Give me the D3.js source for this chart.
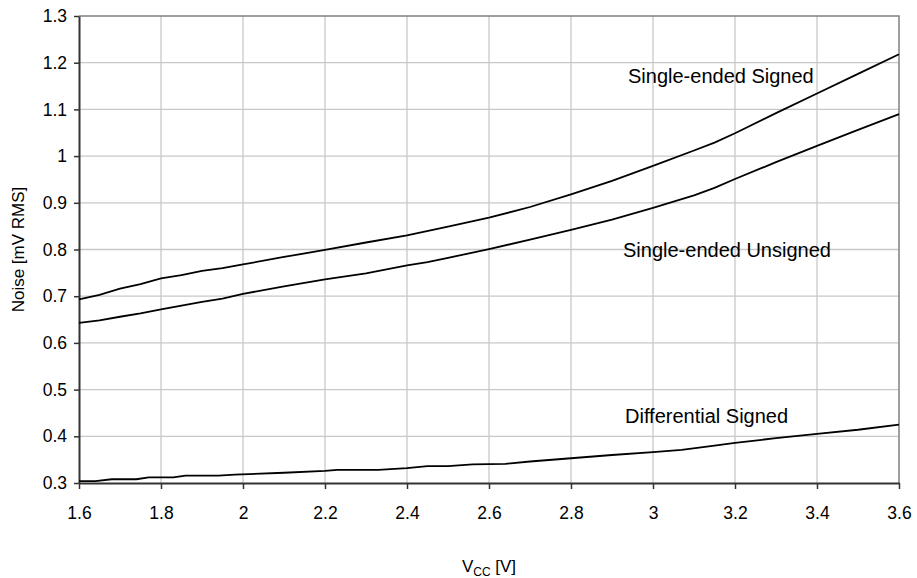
<!DOCTYPE html>
<html>
<head>
<meta charset="utf-8">
<script src="https://cdn.jsdelivr.net/npm/d3@7"></script>
<style>
  html, body { margin: 0; padding: 0; background: #fff; }
  svg text { font-family: "Liberation Sans", Arial, Helvetica, sans-serif; fill: #000; }
</style>
</head>
<body>
<svg id="chart" width="917" height="578"></svg>
<script>
// Supply voltage [V] and noise [mV RMS] for each curve
const signedVcc = [1.6, 1.65, 1.7, 1.75, 1.8, 1.85, 1.9, 1.95, 2.0, 2.1, 2.2, 2.3, 2.4, 2.5, 2.6, 2.7, 2.8, 2.9, 3.0, 3.1, 3.15, 3.2, 3.3, 3.4, 3.5, 3.6];
const signedNoise = [0.693, 0.703, 0.716, 0.726, 0.738, 0.745, 0.754, 0.760, 0.768, 0.784, 0.799, 0.815, 0.830, 0.849, 0.868, 0.891, 0.918, 0.947, 0.979, 1.012, 1.029, 1.049, 1.092, 1.134, 1.176, 1.218];

const unsignedVcc = [1.6, 1.65, 1.7, 1.75, 1.8, 1.85, 1.9, 1.95, 2.0, 2.1, 2.2, 2.3, 2.4, 2.45, 2.5, 2.6, 2.7, 2.8, 2.9, 3.0, 3.1, 3.15, 3.2, 3.3, 3.4, 3.5, 3.6];
const unsignedNoise = [0.643, 0.648, 0.656, 0.663, 0.672, 0.680, 0.688, 0.695, 0.705, 0.721, 0.736, 0.749, 0.766, 0.773, 0.782, 0.801, 0.821, 0.842, 0.864, 0.889, 0.916, 0.932, 0.951, 0.987, 1.022, 1.056, 1.090];

const diffVcc = [1.6, 1.64, 1.68, 1.74, 1.77, 1.83, 1.86, 1.94, 1.98, 2.1, 2.2, 2.23, 2.33, 2.4, 2.45, 2.5, 2.56, 2.64, 2.7, 2.8, 2.9, 3.0, 3.07, 3.15, 3.2, 3.3, 3.4, 3.5, 3.6];
const diffNoise = [0.304, 0.304, 0.308, 0.308, 0.312, 0.312, 0.316, 0.316, 0.318, 0.322, 0.326, 0.328, 0.328, 0.332, 0.336, 0.336, 0.340, 0.341, 0.346, 0.353, 0.360, 0.366, 0.371, 0.380, 0.386, 0.396, 0.405, 0.414, 0.425];

const xTicks = [1.6, 1.8, 2.0, 2.2, 2.4, 2.6, 2.8, 3.0, 3.2, 3.4, 3.6];
const yTicks = [0.3, 0.4, 0.5, 0.6, 0.7, 0.8, 0.9, 1.0, 1.1, 1.2, 1.3];

const seriesNames = ["Single-ended Signed", "Single-ended Unsigned", "Differential Signed"];

const svg = d3.select('#chart');
const margin = { left: 79, top: 16, right: 18, bottom: 95 };
const width = 917, height = 578;
const x0 = margin.left, x1 = width - margin.right;
const y0 = height - margin.bottom, y1 = margin.top;

const x = d3.scaleLinear().domain([1.6, 3.6]).range([x0, x1]);
const y = d3.scaleLinear().domain([0.3, 1.3]).range([y0, y1]);

// Grid
const grid = svg.append('g');
grid.selectAll('line.v')
    .data(xTicks.slice(1, -1))
    .enter().append('line')
    .attr('x1', d => x(d)).attr('x2', d => x(d))
    .attr('y1', y1).attr('y2', y0)
    .attr('stroke', '#c8c8c8').attr('stroke-width', 1.3);
grid.selectAll('line.h')
    .data(yTicks.slice(1, -1))
    .enter().append('line')
    .attr('x1', x0).attr('x2', x1)
    .attr('y1', d => y(d)).attr('y2', d => y(d))
    .attr('stroke', '#c8c8c8').attr('stroke-width', 1.3);

// Top and right frame
svg.append('path')
    .attr('d', `M${x0},${y1}H${x1}V${y0}`)
    .attr('fill', 'none').attr('stroke', '#808080').attr('stroke-width', 1.5);

// Axes
const fmt = d => d3.format('')(+d.toFixed(1));
const xAxis = svg.append('g')
    .attr('transform', `translate(0,${y0})`)
    .call(d3.axisBottom(x).tickValues(xTicks).tickSize(6).tickSizeOuter(0).tickFormat(fmt));
const yAxis = svg.append('g')
    .attr('transform', `translate(${x0},0)`)
    .call(d3.axisLeft(y).tickValues(yTicks).tickSize(5).tickSizeOuter(0).tickFormat(fmt));

[xAxis, yAxis].forEach(a => {
    a.select('.domain').attr('stroke', '#333').attr('stroke-width', 2);
    a.selectAll('.tick line').attr('stroke', '#333').attr('stroke-width', 1.5);
    a.selectAll('.tick text').attr('font-size', 17.5).attr('fill', '#000');
});
xAxis.selectAll('.tick text').attr('dy', '1.0em').attr('y', 18);
yAxis.selectAll('.tick text').attr('x', -12);

// Lines
const line = d3.line().x(d => x(d[0])).y(d => y(d[1]));
const series = [
    d3.zip(signedVcc, signedNoise),
    d3.zip(unsignedVcc, unsignedNoise),
    d3.zip(diffVcc, diffNoise)
];
svg.selectAll('path.series')
    .data(series)
    .enter().append('path')
    .attr('class', 'series')
    .attr('d', line)
    .attr('fill', 'none')
    .attr('stroke', '#000')
    .attr('stroke-width', 1.8);

// Curve labels
const labelPos = [[628, 83], [623, 257], [625, 423]];
svg.selectAll('text.lbl')
    .data(seriesNames)
    .enter().append('text')
    .attr('class', 'lbl')
    .attr('x', (d, i) => labelPos[i][0])
    .attr('y', (d, i) => labelPos[i][1])
    .attr('font-size', 20)
    .text(d => d);

// Axis titles
const xt = svg.append('text')
    .attr('x', (x0 + x1) / 2)
    .attr('y', 572)
    .attr('text-anchor', 'middle')
    .attr('font-size', 17);
xt.append('tspan').text('V');
xt.append('tspan').attr('font-size', 12).attr('dy', 4).text('CC');
xt.append('tspan').attr('dy', -4).text(' [V]');

svg.append('text')
    .attr('transform', `translate(24,${(y0 + y1) / 2}) rotate(-90)`)
    .attr('text-anchor', 'middle')
    .attr('font-size', 17)
    .text('Noise [mV RMS]');
</script>
</body>
</html>
